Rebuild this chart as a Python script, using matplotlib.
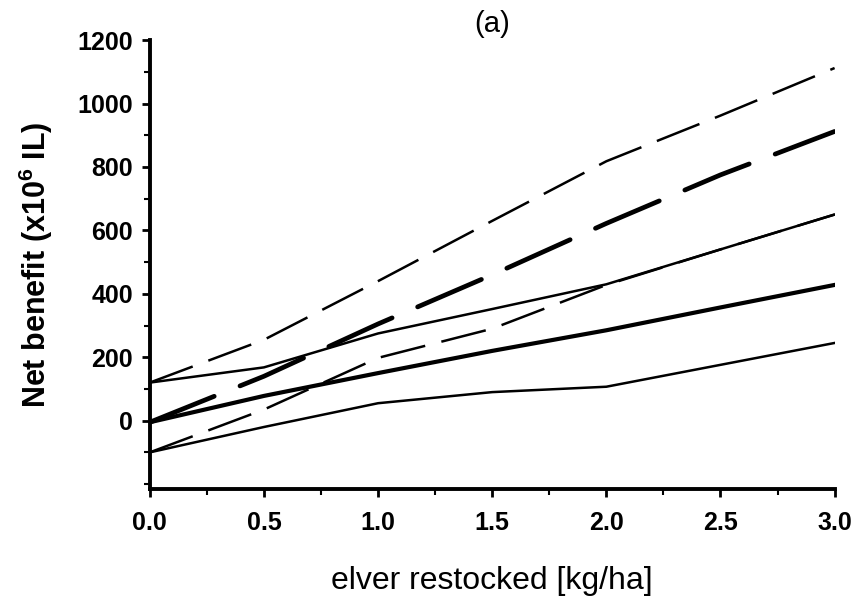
import matplotlib.pyplot as plt
from matplotlib.ticker import MultipleLocator

plt.rcParams['font.family'] = ['Liberation Sans', 'DejaVu Sans']
plt.rcParams['mathtext.fontset'] = 'custom'
plt.rcParams['mathtext.bf'] = 'Liberation Sans:bold'
plt.rcParams['mathtext.rm'] = 'Liberation Sans'
plt.rcParams['lines.scale_dashes'] = False

# elver restocked [kg/ha]
x = [0.0, 0.5, 1.0, 1.5, 2.0, 2.5, 3.0]

# solid lines (thin upper, thick middle, thin lower)
solid_upper = [120, 168, 275, 352, 430, 540, 650]
solid_mid = [-5, 78, 150, 220, 285, 357, 428]
solid_lower = [-100, -20, 55, 90, 107, 176, 245]

# dashed lines (thin upper, thick middle, thin lower)
dash_upper = [120, 255, 440, 630, 818, 962, 1112]
dash_mid = [-5, 140, 305, 460, 622, 775, 912]
dash_lower = [-100, 35, 198, 290, 428, 540, 650]

yticks = [0, 200, 400, 600, 800, 1000, 1200]

fig = plt.figure(figsize=(8.56, 6.08), dpi=100)
ax = fig.add_axes([0.175, 0.196, 0.8, 0.738])

ax.plot(x, solid_upper, color='black', lw=1.8)
ax.plot(x, solid_mid, color='black', lw=3.0)
ax.plot(x, solid_lower, color='black', lw=1.8)

ax.plot(x, dash_upper, color='black', lw=1.8, dashes=(33, 12))
ax.plot(x, dash_mid, color='black', lw=3.4, dashes=(50, 20), dash_capstyle='round')
ax.plot(x, dash_lower, color='black', lw=1.8, dashes=(33, 12))

ax.set_xlim(0, 3.0)
ax.set_ylim(-215, 1200)
ax.xaxis.set_major_locator(MultipleLocator(0.5))
ax.xaxis.set_minor_locator(MultipleLocator(0.25))
ax.set_yticks(yticks)
ax.yaxis.set_minor_locator(MultipleLocator(100))
ax.set_xticklabels([f'{v:.1f}' for v in ax.get_xticks()])

for s in ['top', 'right']:
    ax.spines[s].set_visible(False)
for s in ['left', 'bottom']:
    ax.spines[s].set_linewidth(2.8)

ax.tick_params(which='major', direction='out', length=6, width=2, labelsize=18)
ax.tick_params(axis='x', which='major', pad=10)
ax.tick_params(axis='y', which='major', pad=6)
ax.tick_params(which='minor', direction='out', length=4, width=1.5)
for lab in ax.get_xticklabels() + ax.get_yticklabels():
    lab.set_fontweight('bold')

ax.set_xlabel('elver restocked [kg/ha]', fontsize=23, labelpad=22)
ax.set_ylabel(r'Net benefit (x10$^{\mathbf{6}}$ IL)', fontsize=22, fontweight='bold', labelpad=16)
ax.set_title('(a)', fontsize=21, pad=6)

fig.savefig('out.png', dpi=100)
